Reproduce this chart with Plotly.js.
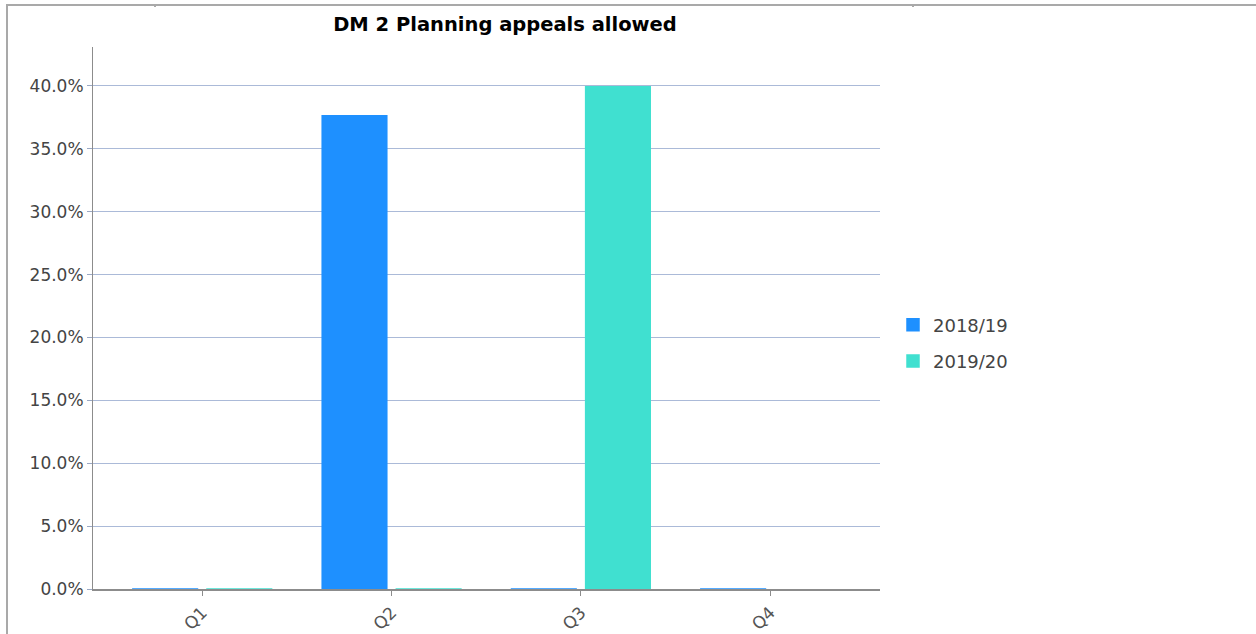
<!DOCTYPE html>
<html>
<head>
<meta charset="utf-8">
<script src="https://cdn.plot.ly/plotly-3.0.1.min.js"></script>
<style>
  html, body { margin: 0; padding: 0; background: #fff; }
  #wrap { position: relative; width: 1256px; height: 634px; overflow: hidden; }
  #chart { position: absolute; left: 0; top: 0; width: 1256px; height: 634px; }
  .bt { position: absolute; background: #a9a9a9; }
</style>
</head>
<body>
<div id="wrap">
  <div id="chart"></div>
  <div class="bt" style="left:6px; top:4px; width:1250px; height:2px;"></div>
  <div class="bt" style="left:6px; top:4px; width:2px; height:630px;"></div>
  <div class="bt" style="left:154px; top:6px; width:2px; height:1px;"></div>
  <div class="bt" style="left:912px; top:6px; width:2px; height:1px;"></div>
</div>
<script>
var quarters = ['Q1', 'Q2', 'Q3', 'Q4'];
var seriesNames = ['2018/19', '2019/20'];
var values2018 = [0, 0.377, 0, 0];
var values2019 = [0, 0, 0.40, null];
var yTicks = [0, 0.05, 0.10, 0.15, 0.20, 0.25, 0.30, 0.35, 0.40];

var colors = ['#1E90FF', '#40E0D0'];
var font = 'DejaVu Sans, Verdana, sans-serif';

function zeroLine(vals) {
  return vals.map(function (v) { return v === 0 ? 1.5 : 0; });
}

var traces = [values2018, values2019].map(function (vals, i) {
  return {
    type: 'bar',
    name: seriesNames[i],
    legendgroup: 'g' + i,
    x: quarters,
    y: vals,
    marker: { color: colors[i], line: { color: colors[i], width: zeroLine(vals) } },
    hoverinfo: 'x+y+name'
  };
});

var layout = {
  width: 1256,
  height: 634,
  margin: { l: 93, r: 376, t: 47, b: 45, pad: 0 },
  paper_bgcolor: '#ffffff',
  plot_bgcolor: '#ffffff',
  barmode: 'group',
  bargap: 0.217,
  bargroupgap: 0.108,
  title: {
    text: '<b>DM 2 Planning appeals allowed</b>',
    font: { family: font, size: 19.5, color: '#000000' },
    x: (505 - 93) / 787, xanchor: 'center', xref: 'paper',
    y: 1 - 24 / 634, yanchor: 'middle', yref: 'container'
  },
  xaxis: {
    type: 'category',
    range: [-0.577, 3.58],
    showgrid: false,
    showline: true, linecolor: '#8c8c8c', linewidth: 2,
    ticks: 'outside', ticklen: 5, tickcolor: '#8c8c8c', tickwidth: 1,
    tickangle: -45,
    tickfont: { family: font, size: 17, color: '#555555' },
    zeroline: false, fixedrange: true
  },
  yaxis: {
    range: [0, 0.431],
    tickvals: yTicks,
    tickformat: '.1%',
    showgrid: true, gridcolor: '#abbad8', gridwidth: 1,
    showline: true, linecolor: '#8c8c8c', linewidth: 1,
    ticks: 'outside', ticklen: 5, tickcolor: '#9aa8c4',
    tickfont: { family: font, size: 17, color: '#444444' },
    zeroline: false, fixedrange: true
  },
  legend: {
    x: (893 - 93) / 787, xanchor: 'left',
    y: (589 - 343) / 542, yanchor: 'middle',
    font: { family: font, size: 18, color: '#444444' },
    itemwidth: 30,
    tracegroupgap: 10,
    bgcolor: 'rgba(0,0,0,0)'
  },
  showlegend: true
};

Plotly.newPlot('chart', traces, layout, { displayModeBar: false, staticPlot: true });
</script>
</body>
</html>
